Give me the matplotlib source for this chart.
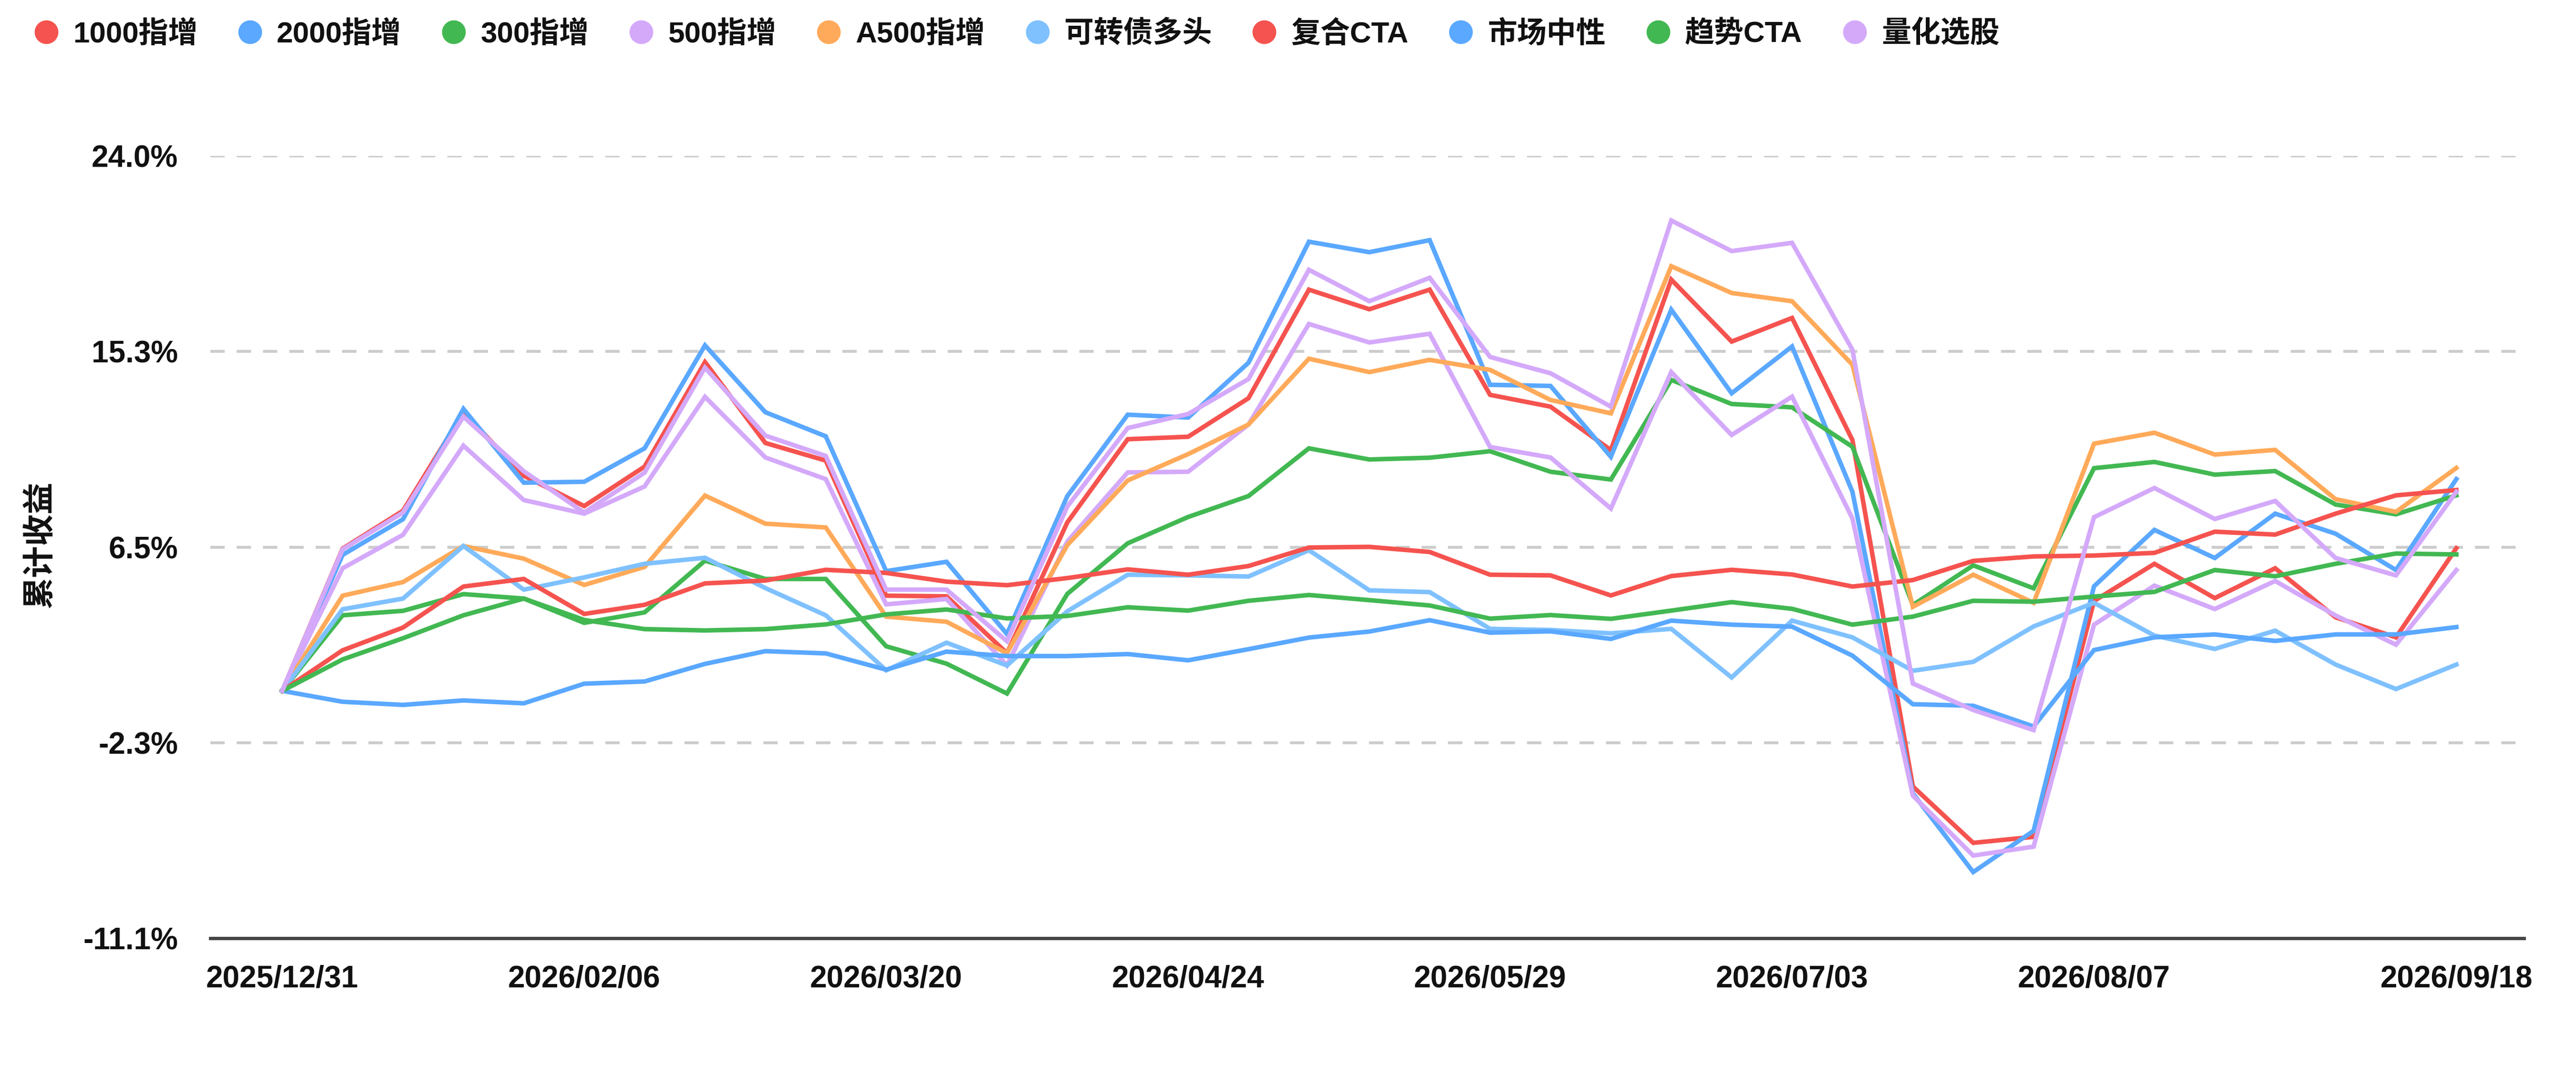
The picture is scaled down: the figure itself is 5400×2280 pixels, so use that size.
import matplotlib
matplotlib.use("Agg")
import matplotlib.pyplot as plt
from matplotlib.lines import Line2D

# ---------------- data ----------------
dates = ["2025/12/31", "2026/01/09", "2026/01/16", "2026/01/23", "2026/01/30",
         "2026/02/06", "2026/02/13", "2026/02/27", "2026/03/06", "2026/03/13",
         "2026/03/20", "2026/03/27", "2026/04/03", "2026/04/10", "2026/04/17",
         "2026/04/24", "2026/04/30", "2026/05/08", "2026/05/15", "2026/05/22",
         "2026/05/29", "2026/06/05", "2026/06/12", "2026/06/19", "2026/06/26",
         "2026/07/03", "2026/07/10", "2026/07/17", "2026/07/24", "2026/07/31",
         "2026/08/07", "2026/08/14", "2026/08/21", "2026/08/28", "2026/09/04",
         "2026/09/11", "2026/09/18"]

s_1000 = [0, 6.38, 8.08, 12.5, 9.65, 8.29, 10.06, 14.75, 11.12, 10.33,
          4.27, 4.24, 1.69, 7.56, 11.29, 11.4, 13.13, 18.0, 17.12, 18.0,
          13.28, 12.75, 10.8, 18.45, 15.67, 16.73, 11.25, -4.29, -6.82, -6.55,
          4.03, 5.7, 4.16, 5.5, 3.3, 2.4, 6.4]
s_2000 = [0, 6.1, 7.7, 12.65, 9.34, 9.38, 10.88, 15.5, 12.5, 11.42,
          5.37, 5.79, 2.55, 8.74, 12.39, 12.26, 14.72, 20.15, 19.68, 20.22,
          13.73, 13.68, 10.5, 17.1, 13.35, 15.45, 8.93, -4.6, -8.13, -6.28,
          4.69, 7.22, 5.96, 7.95, 7.05, 5.42, 9.5]
s_300 = [0, 3.39, 3.59, 4.34, 4.14, 3.05, 3.52, 5.84, 5.02, 5.02,
         2.0, 1.22, -0.12, 4.35, 6.62, 7.8, 8.74, 10.88, 10.38, 10.46,
         10.75, 9.83, 9.48, 13.95, 12.87, 12.72, 10.95, 3.85, 5.63, 4.6,
         9.99, 10.27, 9.7, 9.86, 8.36, 7.92, 8.77]
s_500 = [0, 5.5, 7.0, 11.0, 8.56, 7.95, 9.17, 13.19, 10.47, 9.5,
         3.88, 4.12, 1.14, 6.7, 9.8, 9.83, 11.95, 16.46, 15.63, 16.02,
         10.94, 10.47, 8.18, 14.3, 11.48, 13.2, 7.73, -4.7, -7.39, -6.99,
         2.97, 4.72, 3.67, 4.93, 3.38, 2.07, 5.42]
s_a500 = [0, 4.27, 4.88, 6.5, 5.93, 4.75, 5.56, 8.76, 7.5, 7.33,
          3.33, 3.1, 1.69, 6.54, 9.44, 10.62, 11.95, 14.9, 14.3, 14.85,
          14.4, 13.05, 12.45, 19.05, 17.85, 17.48, 14.63, 3.77, 5.21, 3.95,
          11.09, 11.58, 10.6, 10.81, 8.6, 8.03, 10.0]
s_cb = [0, 3.66, 4.14, 6.5, 4.54, 5.09, 5.7, 5.97, 4.61, 3.39,
        0.92, 2.16, 1.14, 3.57, 5.21, 5.18, 5.13, 6.31, 4.51, 4.43,
        2.78, 2.73, 2.58, 2.78, 0.6, 3.15, 2.4, 0.9, 1.3, 2.89,
        3.95, 2.48, 1.88, 2.7, 1.18, 0.08, 1.18]
s_cta_mix = [0, 1.82, 2.84, 4.68, 5.02, 3.45, 3.86, 4.82, 4.95, 5.43,
             5.29, 4.9, 4.74, 5.06, 5.45, 5.21, 5.6, 6.43, 6.46, 6.23,
             5.21, 5.18, 4.28, 5.15, 5.43, 5.22, 4.68, 4.97, 5.83, 6.03,
             6.07, 6.19, 7.14, 7.01, 7.95, 8.77, 9.01]
s_neutral = [0, -0.49, -0.63, -0.43, -0.56, 0.32, 0.42, 1.21, 1.78, 1.68,
             0.95, 1.76, 1.56, 1.56, 1.65, 1.37, 1.87, 2.39, 2.66, 3.17,
             2.61, 2.67, 2.33, 3.15, 2.97, 2.88, 1.58, -0.6, -0.67, -1.6,
             1.83, 2.4, 2.53, 2.24, 2.53, 2.53, 2.86]
s_cta_trend = [0, 1.41, 2.36, 3.39, 4.14, 3.18, 2.77, 2.71, 2.77, 2.98,
               3.43, 3.65, 3.25, 3.36, 3.75, 3.6, 4.04, 4.3, 4.07, 3.83,
               3.24, 3.4, 3.23, 3.6, 3.98, 3.68, 2.97, 3.33, 4.04, 4.0,
               4.23, 4.44, 5.42, 5.14, 5.7, 6.16, 6.12]
s_quant = [0, 6.35, 8.0, 12.3, 9.85, 8.0, 9.79, 14.5, 11.45, 10.54,
           4.54, 4.54, 2.23, 8.27, 11.79, 12.42, 13.99, 18.89, 17.48, 18.53,
           14.98, 14.25, 12.75, 21.1, 19.73, 20.1, 15.3, 0.33, -0.86, -1.76,
           7.79, 9.1, 7.71, 8.52, 5.96, 5.18, 8.93]

series_names = ["1000指增", "2000指增", "300指增", "500指增", "A500指增",
                "可转债多头", "复合CTA", "市场中性", "趋势CTA", "量化选股"]
series_values = [s_1000, s_2000, s_300, s_500, s_a500,
                 s_cb, s_cta_mix, s_neutral, s_cta_trend, s_quant]

y_ticks = [-11.1, -2.325, 6.45, 15.225, 24.0]
y_tick_labels = ["-11.1%", "-2.3%", "6.5%", "15.3%", "24.0%"]
x_tick_idx = [0, 5, 10, 15, 20, 25, 30, 36]

# ---------------- style ----------------
colors = ["#F5534F", "#5AA8FF", "#42B852", "#D4A9FA", "#FFAA5A",
          "#7FC1FF", "#F5534F", "#5AA8FF", "#42B852", "#D4A9FA"]
FAM = ["Liberation Sans", "Noto Sans CJK SC", "DejaVu Sans"]
plt.rcParams["font.family"] = FAM
plt.rcParams["axes.unicode_minus"] = False

W, H, DPI = 5400, 2280, 200
fig = plt.figure(figsize=(W / DPI, H / DPI), dpi=DPI)
fig.patch.set_facecolor("white")

ax_l, ax_r = 441 / W, 5291 / W
ax_b, ax_t = 1 - 1968 / H, 1 - 327 / H
ax = fig.add_axes([ax_l, ax_b, ax_r - ax_l, ax_t - ax_b])

x = list(range(len(dates)))
handles = []
for name, vals, c in zip(series_names, series_values, colors):
    ax.plot(x, vals, color=c, lw=3.4, solid_joinstyle="miter", zorder=3)
    handles.append(Line2D([], [], linestyle="none", marker="o", markersize=16.9,
                          markerfacecolor=c, markeredgecolor=c))

ax.set_ylim(-11.1, 24.0)
ax.set_xlim(-1.19, 37.12)

ax.set_yticks(y_ticks)
ax.set_yticklabels(y_tick_labels)
ax.set_xticks(x_tick_idx)
ax.set_xticklabels([dates[i] for i in x_tick_idx])

for lbl in ax.get_yticklabels() + ax.get_xticklabels():
    lbl.set_fontweight("bold")
    lbl.set_fontsize(23)
    lbl.set_color("#111111")

ax.tick_params(axis="y", length=0, pad=24.5)
ax.tick_params(axis="x", length=0, pad=20)

ax.yaxis.grid(True, color="#cccccc", linestyle=(0, (5, 4.2)), linewidth=2.16, zorder=0)
ax.xaxis.grid(False)
ax.set_axisbelow(True)
for side in ["top", "right", "left"]:
    ax.spines[side].set_visible(False)
ax.spines["bottom"].set_color("#444444")
ax.spines["bottom"].set_linewidth(2.5)
ax.spines["bottom"].set_zorder(4)

fig.text(83 / W, 1 - 1143 / H, "累计收益", rotation=90, ha="center", va="center",
         fontsize=24, fontweight="bold", color="#111111",
         family=["Noto Sans CJK SC", "DejaVu Sans"])

leg = fig.legend(handles, series_names, loc="center left",
                 bbox_to_anchor=(73 / W, 1 - 72 / H), ncol=10, frameon=False,
                 borderaxespad=0, borderpad=0, handlelength=0.76,
                 handletextpad=0.53, columnspacing=1.39,
                 prop={"family": FAM, "weight": "bold", "size": 22.3})
for t in leg.get_texts():
    t.set_color("#111111")

fig.savefig("out.png", dpi=DPI, facecolor="white")
